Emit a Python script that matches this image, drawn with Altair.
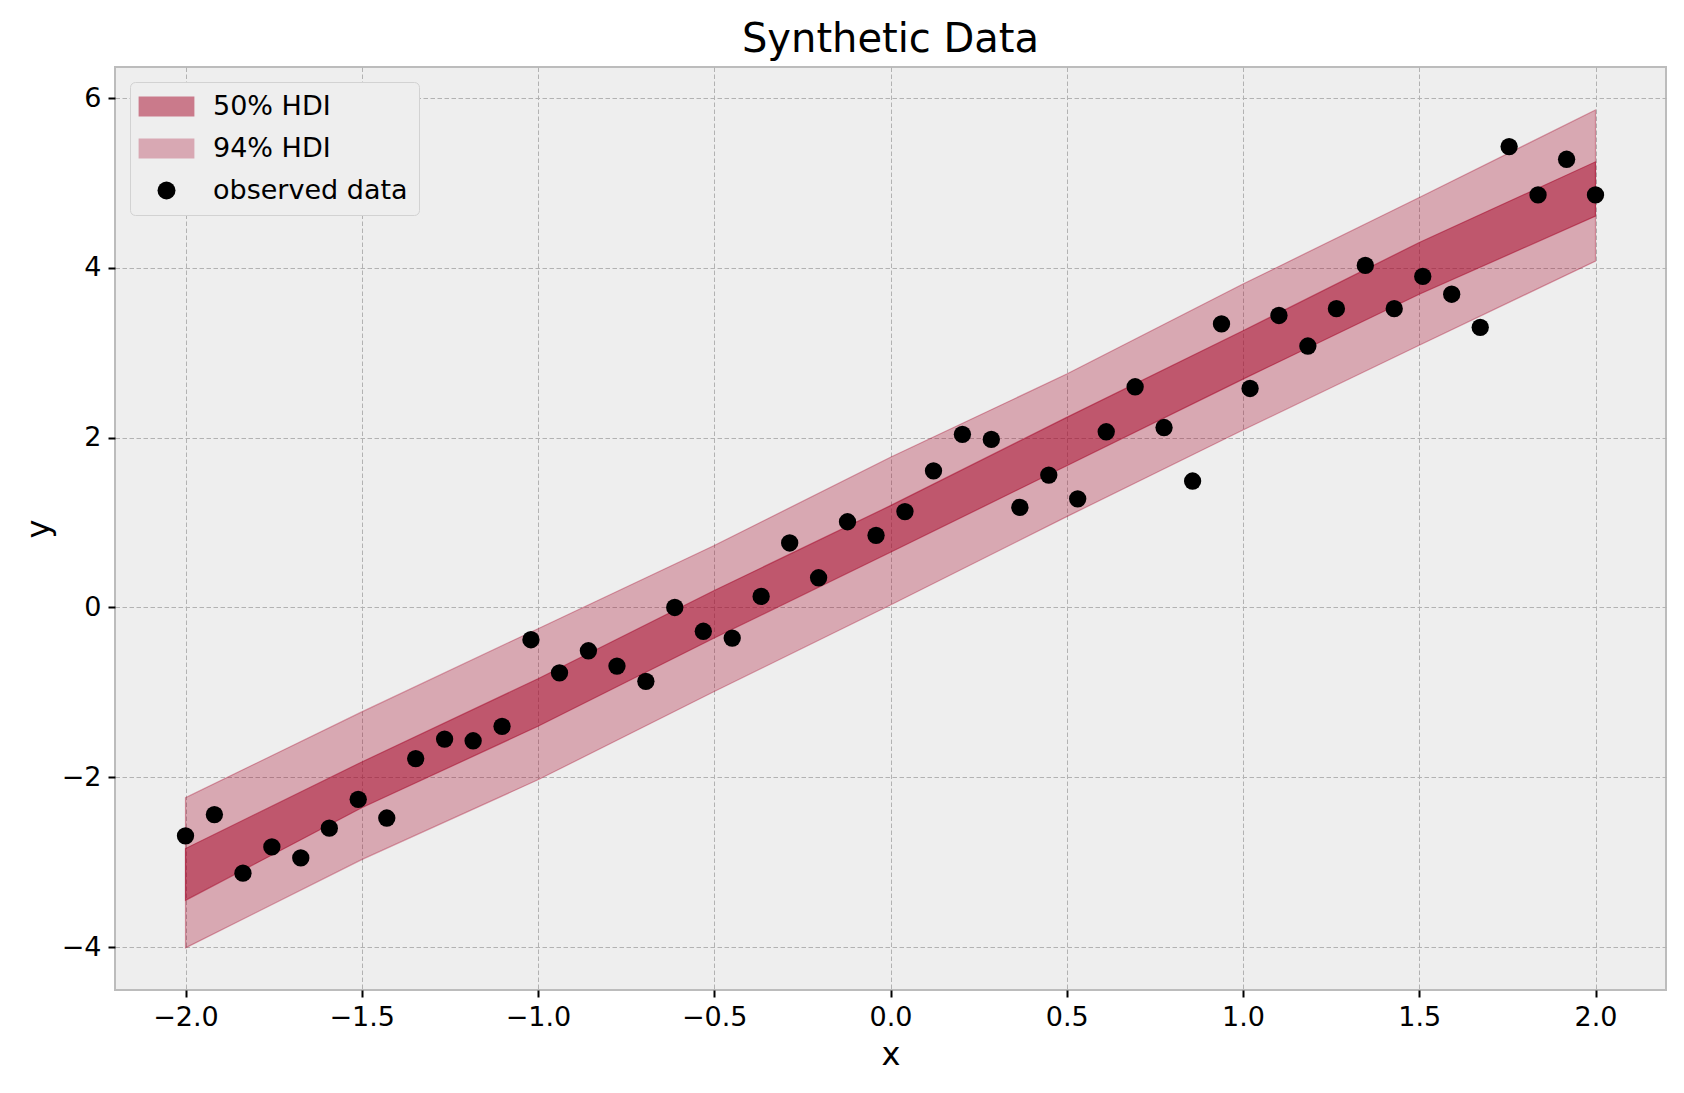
import altair as alt
import pandas as pd

# ---- data ----
x_obs = [-2.000, -1.918, -1.837, -1.755, -1.673, -1.592, -1.510, -1.429, -1.347, -1.265,
         -1.184, -1.102, -1.020, -0.939, -0.857, -0.776, -0.694, -0.612, -0.531, -0.449,
         -0.367, -0.286, -0.204, -0.122, -0.041, 0.041, 0.122, 0.204, 0.286, 0.367,
         0.449, 0.531, 0.612, 0.694, 0.776, 0.857, 0.939, 1.020, 1.102, 1.184,
         1.265, 1.347, 1.429, 1.510, 1.592, 1.673, 1.755, 1.837, 1.918, 2.000]
y_obs = [-2.69, -2.44, -3.13, -2.82, -2.95, -2.60, -2.26, -2.48, -1.78, -1.55,
         -1.57, -1.40, -0.38, -0.77, -0.51, -0.69, -0.87, 0.00, -0.28, -0.36,
         0.13, 0.76, 0.35, 1.01, 0.85, 1.13, 1.61, 2.04, 1.98, 1.18,
         1.56, 1.28, 2.07, 2.60, 2.12, 1.49, 3.34, 2.58, 3.44, 3.08,
         3.52, 4.03, 3.52, 3.90, 3.69, 3.30, 5.43, 4.86, 5.28, 4.86]

band_x = [-2.0, -1.5, -1.0, -0.5, 0.0, 0.5, 1.0, 1.5, 2.0]
hdi94_low = [-4.01, -2.97, -2.03, -0.99, 0.03, 1.07, 2.09, 3.09, 4.08]
hdi94_high = [-2.24, -1.23, -0.25, 0.73, 1.77, 2.75, 3.81, 4.83, 5.86]
hdi50_low = [-3.45, -2.36, -1.40, -0.36, 0.65, 1.67, 2.69, 3.69, 4.61]
hdi50_high = [-2.84, -1.82, -0.84, 0.20, 1.20, 2.24, 3.26, 4.30, 5.25]

series_names = ["50% HDI", "94% HDI", "observed data"]
# legend swatch colours (band colour blended over the #eeeeee legend face)
legend_colors = ["#ca7a8b", "#d8a8b3", "#000000"]
x_ticks = [-2.0, -1.5, -1.0, -0.5, 0.0, 0.5, 1.0, 1.5, 2.0]
y_ticks = [-4, -2, 0, 2, 4, 6]

obs = pd.DataFrame({"x": x_obs, "y": y_obs, "series": "observed data"})
b94 = pd.DataFrame({"x": band_x, "lo": hdi94_low, "hi": hdi94_high})
b50 = pd.DataFrame({"x": band_x, "lo": hdi50_low, "hi": hdi50_high})

RED = "#A60628"
FONT = "DejaVu Sans"
RECT = "M-3.1,-1.1H3.1V1.1H-3.1Z"

xscale = alt.Scale(domain=[-2.2, 2.2], nice=False, zero=False)
yscale = alt.Scale(domain=[-4.506, 6.367], nice=False, zero=False)

x_axis = alt.Axis(values=x_ticks, title="x",
                  labelExpr="replace(format(datum.value, '.1f'), '-', '\u2212')")
y_axis = alt.Axis(values=y_ticks, title="y",
                  labelExpr="replace(format(datum.value, 'd'), '-', '\u2212')")

a94 = alt.Chart(b94).mark_area(color=RED, fillOpacity=0.3, stroke=RED,
                               strokeOpacity=0.35, strokeWidth=1.2).encode(
    x=alt.X("x:Q", scale=xscale, axis=x_axis),
    y=alt.Y("lo:Q", scale=yscale, axis=y_axis),
    y2="hi:Q",
)
a50 = alt.Chart(b50).mark_area(color=RED, fillOpacity=0.5, stroke=RED,
                               strokeOpacity=0.5, strokeWidth=1.2).encode(
    x=alt.X("x:Q", scale=xscale),
    y=alt.Y("lo:Q", scale=yscale),
    y2="hi:Q",
)

legend = alt.Legend(title=None, orient="none", legendX=15, legendY=15,
                    labelFontSize=27, labelFont=FONT, labelColor="#000000",
                    labelOffset=33, labelLimit=500, symbolOffset=12,
                    rowPadding=14, padding=11,
                    symbolSize=324, symbolStrokeWidth=0, symbolOpacity=1,
                    fillColor="#eeeeee", strokeColor="#d2d2d2", cornerRadius=5)

pts = alt.Chart(obs).mark_point(filled=True, size=300, opacity=1).encode(
    x=alt.X("x:Q", scale=xscale),
    y=alt.Y("y:Q", scale=yscale),
    color=alt.Color("series:N", scale=alt.Scale(domain=series_names, range=legend_colors),
                    legend=legend),
    shape=alt.Shape("series:N", scale=alt.Scale(domain=series_names, range=[RECT, RECT, "circle"]),
                    legend=legend),
)

chart = alt.layer(a50, a94, pts).properties(
    width=1551, height=923,
    title=alt.TitleParams("Synthetic Data", fontSize=40, font=FONT, fontWeight="normal",
                          color="#000000", anchor="middle", offset=7),
    autosize=alt.AutoSizeParams(type="none"),
    padding={"left": 115, "top": 67, "right": 18, "bottom": 103},
    background="#ffffff",
).configure_view(
    fill="#eeeeee", stroke="#bcbcbc", strokeWidth=2,
).configure_axis(
    domain=False, grid=True, gridColor="#b2b2b2", gridDash=[4.5, 2.5], gridWidth=1,
    ticks=True, tickColor="#000000", tickWidth=2, tickSize=7,
    labelFont=FONT, labelFontSize=27, labelColor="#000000", labelPadding=7,
    titleFont=FONT, titleFontSize=32, titleFontWeight="normal", titleColor="#000000",
).configure_axisX(titlePadding=9, labelFlush=False).configure_axisY(titlePadding=6, labelFlush=False)

chart.save("out.html", embed_options={"renderer": "svg", "actions": False})
